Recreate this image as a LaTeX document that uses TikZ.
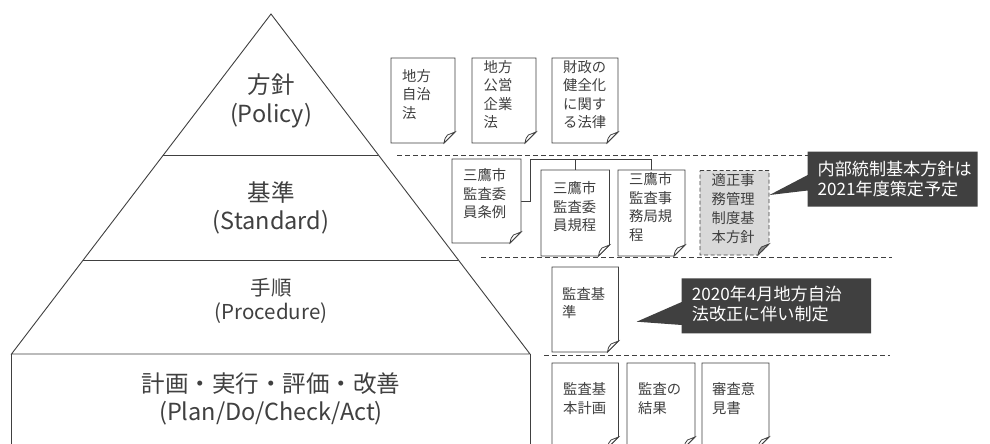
\documentclass[tikz,border=0pt]{standalone}
\usepackage{fontspec}
\setmainfont{Noto Sans CJK JP}
\usetikzlibrary{calc}
\definecolor{ink}{HTML}{404040}
\definecolor{callfill}{HTML}{404040}
\definecolor{docgray}{HTML}{D9D9D9}
\definecolor{foldgray}{HTML}{8C8C8C}
\tikzset{
  pyr/.style={draw=ink, line width=0.9pt, line join=miter},
  sepline/.style={draw=ink, line width=0.9pt, dash pattern=on 5pt off 3pt},
  docbox/.style={inner sep=0pt, outer sep=0pt, anchor=north west},
  docline/.style={draw=ink, line width=0.9pt, fill=white},
  foldline/.style={draw=ink, line width=0.8pt, fill=white},
  grayline/.style={draw=ink, line width=0.9pt, fill=docgray, dash pattern=on 4pt off 2.5pt},
  grayfold/.style={draw=ink, line width=0.8pt, fill=foldgray},
  doctext/.style={inner sep=0pt, anchor=west, align=left, text=ink, font=\fontsize{14.3}{18.5}\selectfont},
  bigtext/.style={inner sep=0pt, align=center, text=ink, font=\fontsize{23.5}{28.5}\selectfont},
  proctext/.style={inner sep=0pt, align=center, text=ink, font=\fontsize{20.5}{24.5}\selectfont},
  calltext/.style={inner sep=0pt, anchor=west, align=left, text=white, font=\fontsize{17.1}{20}\selectfont},
  conn/.style={draw=ink, line width=0.9pt},
}
\newcommand\docoutline[3]{%
  \path[#2] (#1.north west) -- (#1.north east) -- ($(#1.south east)+(0pt,11pt)$) -- ($(#1.south east)+(-11pt,0pt)$) -- (#1.south west) -- cycle;
  \path[#3] ($(#1.south east)+(-11pt,0pt)$) .. controls ($(#1.south east)+(-10pt,5pt)$) .. ($(#1.south east)+(-7.5pt,8pt)$) -- ($(#1.south east)+(0pt,11pt)$) -- cycle;
}
\begin{document}
\begin{tikzpicture}[x=1pt,y=-1pt]
\useasboundingbox (0,0) rectangle (990,444);
\fill[white] (0,0) rectangle (990,444);
\clip (0,0) rectangle (990,444);

% pyramid
\coordinate (apex) at (271,14);
\coordinate (bl) at (11.5,354);
\coordinate (br) at (530,354);
\coordinate (blb) at (11.5,450);
\coordinate (brb) at (530,450);
\draw[pyr] (apex) -- (br) -- (bl) -- cycle;
\draw[pyr] ($(apex)!0.4147!(bl)$) -- ($(apex)!0.4147!(br)$);
\draw[pyr] ($(apex)!0.7235!(bl)$) -- ($(apex)!0.7235!(br)$);
\draw[pyr] (bl) -- (blb);
\draw[pyr] (br) -- (brb);

\node[bigtext] (policy) at (271,101) {方針\\(Policy)};
\node[bigtext] (standard) at (271,208) {基準\\(Standard)};
\node[proctext] (procedure) at (271,301) {手順\\(Procedure)};
\node[bigtext] (pdca) at (271,399) {計画・実行・評価・改善\\(Plan/Do/Check/Act)};

% separators
\coordinate (s1a) at (397,155); \coordinate (s1b) at (975,155);
\coordinate (s2a) at (481,257); \coordinate (s2b) at (892,257);
\coordinate (s3a) at (544,355); \coordinate (s3b) at (890,355);
\draw[sepline] (s1a) -- (s1b);
\draw[sepline] (s2a) -- (s2b);
\draw[sepline] (s3a) -- (s3b);

% row 1 documents
\node[docbox, minimum width=64pt, minimum height=85pt] (A1) at (391,58) {};
\node[docbox, minimum width=64pt, minimum height=85pt] (A2) at (472,58) {};
\node[docbox, minimum width=66pt, minimum height=85pt] (A3) at (552,58) {};
\docoutline{A1}{docline}{foldline}
\docoutline{A2}{docline}{foldline}
\docoutline{A3}{docline}{foldline}
\node[doctext] (A1t) at ($(A1.west)+(11pt,6pt)$) {地方\\自治\\法};
\node[doctext] (A2t) at ($(A2.west)+(11.5pt,6pt)$) {地方\\公営\\企業\\法};
\node[doctext] (A3t) at ($(A3.west)+(11pt,6pt)$) {財政の\\健全化\\に関す\\る法律};

% row 2 documents
\node[docbox, minimum width=69pt, minimum height=84pt] (B1) at (452,159) {};
\node[docbox, minimum width=68.5pt, minimum height=86pt] (B2) at (541,170) {};
\node[docbox, minimum width=67pt, minimum height=86pt] (B3) at (618,170) {};
\node[docbox, minimum width=69pt, minimum height=84.5pt] (B4) at (700,170.5) {};
\coordinate (bj) at (530,159);
\draw[conn] (B1.east) -| (bj) -| (B3.north);
\draw[conn] (B2.north |- bj) -- (B2.north);
\docoutline{B1}{docline}{foldline}
\docoutline{B2}{docline}{foldline}
\docoutline{B3}{docline}{foldline}
\docoutline{B4}{grayline}{grayfold}
\node[doctext] (B1t) at ($(B1.west)+(11pt,7pt)$) {三鷹市\\監査委\\員条例};
\node[doctext] (B2t) at ($(B2.west)+(12pt,6pt)$) {三鷹市\\監査委\\員規程};
\node[doctext] (B3t) at ($(B3.west)+(11pt,6pt)$) {三鷹市\\監査事\\務局規\\程};
\node[doctext, font=\fontsize{14.3}{19}\selectfont] (B4t) at ($(B4.west)+(11.5pt,4.5pt)$) {適正事\\務管理\\制度基\\本方針};

% row 3
\node[docbox, minimum width=66.5pt, minimum height=85pt] (C1) at (552,267) {};
\docoutline{C1}{docline}{foldline}
\node[doctext] (C1t) at ($(C1.west)+(10pt,6.5pt)$) {監査基\\準};

% row 4
\node[docbox, minimum width=66.5pt, minimum height=85pt] (D1) at (552,363) {};
\node[docbox, minimum width=68pt, minimum height=85pt] (D2) at (627,363) {};
\node[docbox, minimum width=67pt, minimum height=85pt] (D3) at (702,363) {};
\docoutline{D1}{docline}{foldline}
\docoutline{D2}{docline}{foldline}
\docoutline{D3}{docline}{foldline}
\node[doctext] (D1t) at ($(D1.west)+(11pt,7pt)$) {監査基\\本計画};
\node[doctext] (D2t) at ($(D2.west)+(11pt,7pt)$) {監査の\\結果};
\node[doctext] (D3t) at ($(D3.west)+(10pt,7pt)$) {審査意\\見書};

% callouts
\coordinate (tip1) at (769.5,195);
\fill[callfill] (807.7,151.7) -- (977.7,151.7) -- (977.7,206.7) -- (807.7,206.7) -- (807.7,190.5) -- (tip1) -- (807.7,175) -- cycle;
\node[calltext] (call1) at (817.5,178.8) {内部統制基本方針は\\2021年度策定予定};

\coordinate (tip2) at (636.7,321.7);
\fill[callfill] (681.7,278.3) -- (871,278.3) -- (871,333.3) -- (681.7,333.3) -- (681.7,325) -- (tip2) -- (681.7,302) -- cycle;
\node[calltext] (call2) at (691.7,303.8) {2020年4月地方自治\\法改正に伴い制定};
\end{tikzpicture}
\end{document}
